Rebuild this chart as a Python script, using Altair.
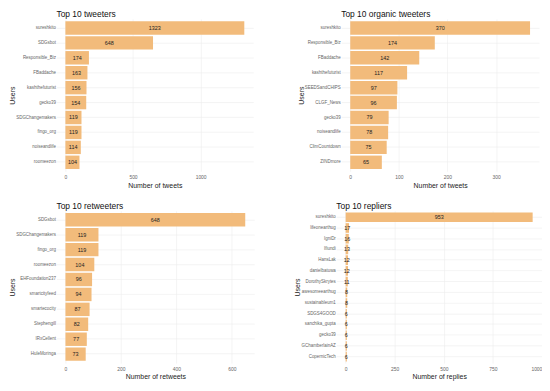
import altair as alt
import pandas as pd

tweeters_users = ["sureshkito", "SDGsbot", "Responsible_Biz", "FBaddache", "kashthefuturist",
                  "gecko39", "SDGChangemakers", "fingo_org", "noiseandlife", "roomeezon"]
tweeters_vals = [1323, 648, 174, 163, 156, 154, 119, 119, 114, 104]

organic_users = ["sureshkito", "Responsible_Biz", "FBaddache", "kashthefuturist", "SEEDSandCHIPS",
                 "CLGF_News", "gecko39", "noiseandlife", "ClimCountdown", "ZINDmore"]
organic_vals = [370, 174, 142, 117, 97, 96, 79, 78, 75, 65]

retweet_users = ["SDGsbot", "SDGChangemakers", "fingo_org", "roomeezon", "EHFoundation237",
                 "smartcityfeed", "smartecocity", "Stephengill", "IRxCellent", "HuleMoringa"]
retweet_vals = [648, 119, 119, 104, 96, 94, 87, 82, 77, 73]

replier_users = ["sureshkito", "lifeonearthug", "IgniDr", "Ifiundi", "HansLak", "danielbatuwa",
                 "DorothySkrytes", "awesomeearthug", "sustainableum1", "SDGS4GOOD",
                 "sanchika_gupta", "gecko39", "GChamberlainAZ", "CopernicTech"]
replier_vals = [953, 17, 16, 13, 12, 12, 11, 8, 8, 6, 6, 6, 6, 6]

BAR = "#F2BB7B"
FONT = "Liberation Sans"


def panel(users, vals, title, xtitle, ticks, w, h):
    df = pd.DataFrame({"user": users, "val": vals})
    df["mid"] = df["val"] / 2
    mx = max(vals)
    xs = alt.Scale(domain=[-0.05 * mx, 1.05 * mx], nice=False, zero=False)
    ys = alt.Scale(paddingInner=0.1, paddingOuter=0.15)
    y = alt.Y("user:N", sort=users, scale=ys,
              axis=alt.Axis(title="Users", ticks=False, domain=False, labelFontSize=4.5,
                            labelColor="#666666", titleFontSize=7, titleFontWeight="normal",
                            titleColor="#222222", labelPadding=1, titlePadding=0,
                            gridColor="#ececec", grid=True, gridWidth=0.6))
    bars = alt.Chart(df).mark_bar(color=BAR).encode(
        x=alt.X("val:Q", scale=xs,
                axis=alt.Axis(title=xtitle, values=ticks, format="d", ticks=False, domain=False,
                              labelFontSize=5, labelColor="#666666", titleFontSize=7,
                              titleFontWeight="normal", titleColor="#222222",
                              gridColor="#ececec", gridWidth=0.6, labelPadding=3,
                              titlePadding=2)),
        y=y,
    )
    labels = alt.Chart(df).mark_text(fontSize=5.5, color="#222222", font=FONT).encode(
        x=alt.X("mid:Q", scale=xs),
        y=alt.Y("user:N", sort=users, scale=ys),
        text="val:Q",
    )
    return (bars + labels).properties(
        width=w, height=h,
        title=alt.Title(title, fontSize=8.5, fontWeight="normal", anchor="start",
                        frame="group", color="#111111", offset=0, font=FONT),
    )


p1 = panel(tweeters_users, tweeters_vals, "Top 10 tweeters", "Number of tweets",
           [0, 500, 1000], 199, 154)
p2 = panel(organic_users, organic_vals, "Top 10 organic tweeters", "Number of tweets",
           [0, 100, 200, 300], 200, 154)
p3 = panel(retweet_users, retweet_vals, "Top 10 retweeters", "Number of retweets",
           [0, 200, 400, 600], 200, 154)
p4 = panel(replier_users, replier_vals, "Top 10 repliers", "Number of replies",
           [0, 250, 500, 750, 1000], 208, 154)

chart = alt.vconcat(
    alt.hconcat(p1, p2, spacing=44),
    alt.hconcat(p3, p4, spacing=40),
    spacing=14,
).configure(
    font=FONT,
    view=alt.ViewConfig(stroke=None),
    title=alt.TitleConfig(fontWeight="normal"),
).properties(padding=0)

chart.save("out.html", embed_options={"renderer": "svg", "actions": False})
